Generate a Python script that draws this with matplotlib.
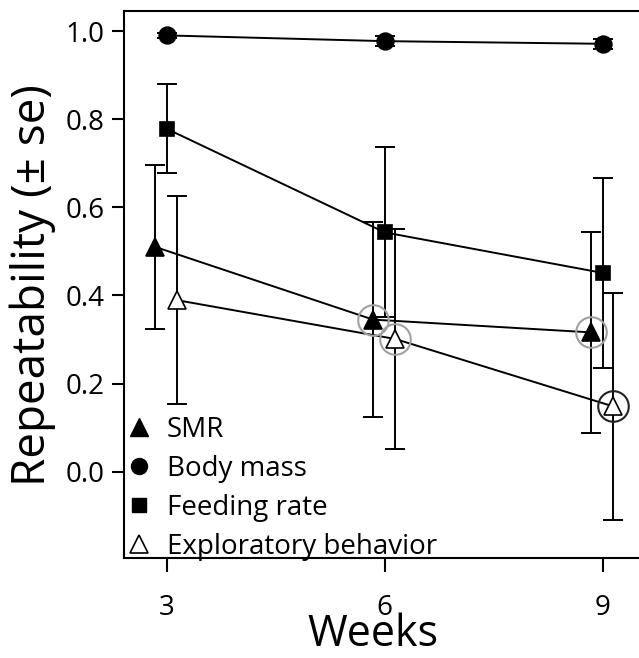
import matplotlib
matplotlib.use("Agg")
import matplotlib.pyplot as plt
from matplotlib.lines import Line2D

plt.rcParams["font.family"] = ["Open Sans", "DejaVu Sans"]

weeks = [3, 6, 9]

smr = [0.510, 0.345, 0.316]
smr_se = [0.187, 0.222, 0.228]
body_mass = [0.990, 0.977, 0.971]
body_mass_se = [0.005, 0.012, 0.012]
feeding = [0.778, 0.543, 0.451]
feeding_se = [0.101, 0.193, 0.215]
explore = [0.389, 0.301, 0.148]
explore_se = [0.236, 0.250, 0.258]

# small horizontal nudges so the error bars don't sit on top of each other
smr_shift = -0.16
explore_shift = 0.145

# points that got a ring around them: (series, week index, ring colour)
rings = [("smr", 1, "#a0a0a0"), ("smr", 2, "#a0a0a0"),
         ("explore", 1, "#a0a0a0"), ("explore", 2, "#222222")]

fig = plt.figure(figsize=(6.39, 6.58), dpi=100)
ax = fig.add_axes([0.194, 0.152, 0.806, 0.831])

series = {
    "smr": (smr, smr_se, smr_shift, "^", "black", 13),
    "body": (body_mass, body_mass_se, 0.0, "o", "black", 12),
    "feed": (feeding, feeding_se, 0.0, "s", "black", 10.5),
    "explore": (explore, explore_se, explore_shift, "^", "white", 13),
}

for key, (vals, se, shift, mk, fc, ms) in series.items():
    xs = [w + shift for w in weeks]
    ax.errorbar(xs, vals, yerr=se, fmt="none", ecolor="black",
                elinewidth=1.4, capsize=7.5, capthick=1.4, zorder=2)
    ax.plot(xs, vals, color="black", lw=1.4, zorder=3)
    ax.plot(xs, vals, linestyle="none", marker=mk, markersize=ms,
            markerfacecolor=fc, markeredgecolor="black", markeredgewidth=1.2,
            zorder=5)

for key, i, col in rings:
    vals, se, shift = series[key][0], series[key][1], series[key][2]
    ax.plot(weeks[i] + shift, vals[i], linestyle="none", marker="o",
            markersize=22, markerfacecolor="none", markeredgecolor=col,
            markeredgewidth=1.5, zorder=4)

ax.set_xlim(2.41, 9.5)
ax.set_ylim(-0.196, 1.045)
ax.set_xticks(weeks)
ax.set_yticks([0.0, 0.2, 0.4, 0.6, 0.8, 1.0])
ax.set_yticklabels(["0.0", "0.2", "0.4", "0.6", "0.8", "1.0"])
ax.spines["right"].set_visible(False)
for s in ["left", "bottom", "top"]:
    ax.spines[s].set_linewidth(1.5)
ax.tick_params(axis="y", length=9, width=1.5, labelsize=20, pad=5)
ax.tick_params(axis="x", length=10, width=1.5, labelsize=20, pad=16.2)

ax.set_xlabel("Weeks", fontsize=31)
ax.xaxis.set_label_coords(0.4825, -0.099)
ax.set_ylabel("Repeatability (± se)", fontsize=33)
ax.yaxis.set_label_coords(-0.132, 0.5)

handles = [
    Line2D([], [], linestyle="none", marker="^", markersize=13,
           markerfacecolor="black", markeredgecolor="black"),
    Line2D([], [], linestyle="none", marker="o", markersize=11.5,
           markerfacecolor="black", markeredgecolor="black"),
    Line2D([], [], linestyle="none", marker="s", markersize=10,
           markerfacecolor="black", markeredgecolor="black"),
    Line2D([], [], linestyle="none", marker="^", markersize=13,
           markerfacecolor="white", markeredgecolor="black", markeredgewidth=1.2),
]
labels = ["SMR", "Body mass", "Feeding rate", "Exploratory behavior"]
ax.legend(handles, labels, loc="lower left", frameon=False, fontsize=20,
          handlelength=1.05, handletextpad=0.5, labelspacing=0.39,
          borderpad=0.0, borderaxespad=0.0, bbox_to_anchor=(0.0, -0.005))

fig.savefig("out.png", dpi=100)
